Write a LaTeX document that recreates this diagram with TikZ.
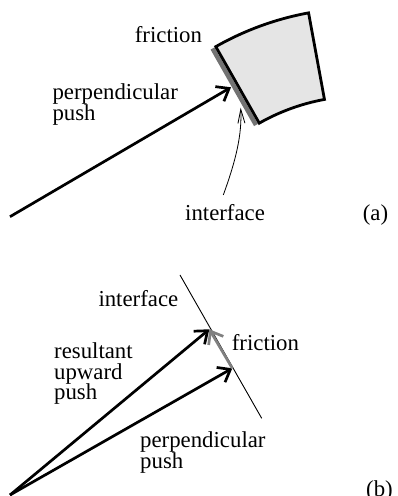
\documentclass[tikz,border=0pt]{standalone}
\usepackage{fontspec}
\setmainfont{Liberation Serif}
\usetikzlibrary{arrows.meta,calc}
\begin{document}
\begin{tikzpicture}[x=1pt,y=1pt,
  lbl/.style={inner sep=0pt, anchor=base west, font=\fontsize{22.8}{20.7}\selectfont, align=left},
  force/.style={line width=2.7pt, -{Straight Barb[length=11pt,width=17pt]}},
  frictionforce/.style={force, draw=black!50},
  thinline/.style={line width=0.9pt},
  pointer/.style={line width=0.8pt, -{Straight Barb[length=14pt,width=7pt]}},
  strip/.style={line width=4.5pt, draw=black!55},
  block/.style={line width=2.8pt, fill=black!10, line join=miter}]
\useasboundingbox (0,0) rectangle (397,496);
% ---------- (a) ----------
\coordinate (C) at (362,192);
\draw[strip] ($(C)+(119.6:208)+(209.6:3.75)$) -- ($(C)+(119.6:296)+(209.6:3.75)$);
\draw[block] ($(C)+(119.6:296)$) arc[start angle=119.6,end angle=100.4,radius=296]
  -- ($(C)+(100.4:208)$) arc[start angle=100.4,end angle=119.6,radius=208] -- cycle;
\coordinate (a0) at (10,279.3);
\coordinate (a1) at (231,408.7);
\draw[force] (a0) -- (a1);
\coordinate (i0) at (223.3,301);
\coordinate (i1) at (240.7,388.3);
\draw[pointer] (i0) .. controls (236,336) and (242,361) .. (i1);
\node[lbl] (fa) at (134.7,453.3) {friction};
\node[lbl] (pa) at (52.3,375.3) {perpendicular\\push};
\node[lbl] (ia) at (185,275.3) {interface};
\node[lbl] (la) at (362.7,275.3) {(a)};
% ---------- (b) ----------
\coordinate (O) at (10,1);
\coordinate (R) at (209.3,166.7);
\coordinate (P) at (232.3,127.7);
\coordinate (L0) at (180,221);
\coordinate (L1) at (261.7,77.7);
\draw[thinline] (L0) -- (L1);
\draw[force] (O) -- (R);
\draw[force] (O) -- (P);
\draw[frictionforce] (P) -- (R);
\node[lbl] (ib) at (98.3,189.3) {interface};
\node[lbl] (fb) at (231.7,145.3) {friction};
\node[lbl] (rb) at (54,96) {resultant\\upward\\push};
\node[lbl] (pb) at (140,27.7) {perpendicular\\push};
\node[lbl] (lb) at (366,0) {(b)};
\end{tikzpicture}
\end{document}
